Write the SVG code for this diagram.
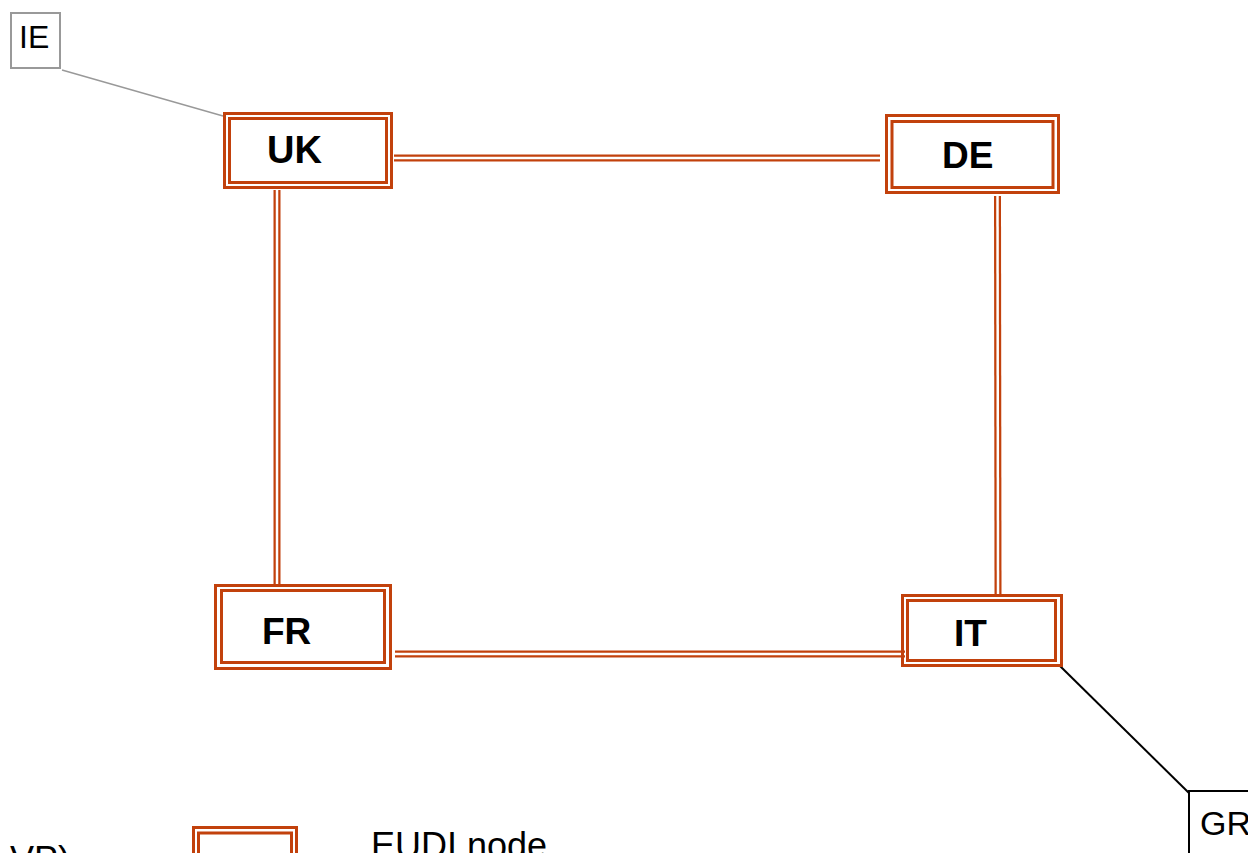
<svg xmlns="http://www.w3.org/2000/svg" width="1248" height="853" viewBox="0 0 1248 853">
<style>
.o{fill:none;stroke:#C2410C;stroke-width:3}
.lab{font-family:"Liberation Sans",Arial,sans-serif;font-weight:bold;font-size:37px;fill:#000}
.txt{font-family:"Liberation Sans",Arial,sans-serif;font-size:34px;fill:#000}
.dl{stroke:#C2410C;stroke-width:7;fill:none}
.dw{stroke:#fff;stroke-width:2.5;fill:none}
</style>
<rect width="1248" height="853" fill="#fff"/>
<g id="connectors">
  <line x1="62" y1="70" x2="223" y2="116" stroke="#999" stroke-width="1.5"/>
  <line x1="1060" y1="666" x2="1189" y2="793" stroke="#000" stroke-width="2"/>
  <g id="uk-de"><line class="dl" x1="394" y1="158" x2="880" y2="158"/><line class="dw" x1="394" y1="158" x2="880" y2="158"/></g>
  <g id="uk-fr"><line class="dl" x1="277" y1="190" x2="277" y2="584"/><line class="dw" x1="277" y1="190" x2="277" y2="584"/></g>
  <g id="de-it"><line class="dl" x1="997.5" y1="196" x2="998" y2="595"/><line class="dw" x1="997.5" y1="196" x2="998" y2="595"/></g>
  <g id="fr-it"><line class="dl" x1="395" y1="654" x2="905" y2="654"/><line class="dw" x1="395" y1="654" x2="905" y2="654"/></g>
</g>
<g id="IE">
  <rect x="11" y="13" width="49" height="55" fill="#fff" stroke="#999" stroke-width="2"/>
  <text class="txt" x="19" y="48" style="font-size:32px">IE</text>
</g>
<g id="UK">
  <rect class="o" x="224.5" y="113.5" width="167" height="74" fill="#fff"/>
  <rect class="o" x="229.5" y="118.5" width="157" height="64"/>
  <text class="lab" x="267" y="163" style="font-size:38px">UK</text>
</g>
<g id="DE">
  <rect class="o" x="886.5" y="115.5" width="172" height="77" fill="#fff"/>
  <rect class="o" x="892" y="121.5" width="161" height="66"/>
  <text class="lab" x="942" y="168">DE</text>
</g>
<g id="FR">
  <rect class="o" x="215.5" y="585.5" width="175" height="83" fill="#fff"/>
  <rect class="o" x="221.5" y="590.5" width="163" height="72"/>
  <text class="lab" x="262" y="644">FR</text>
</g>
<g id="IT">
  <rect class="o" x="902.5" y="595.5" width="159" height="70" fill="#fff"/>
  <rect class="o" x="907.5" y="600.5" width="148" height="60"/>
  <text class="lab" x="954" y="646">IT</text>
</g>
<g id="GR">
  <rect x="1189" y="791" width="80" height="80" fill="#fff" stroke="#000" stroke-width="2"/>
  <text class="txt" x="1200" y="835">GR</text>
</g>
<g id="legend">
  <text class="txt" x="10" y="872" style="font-size:36px">VP)</text>
  <rect class="o" x="193.5" y="827.5" width="103" height="50" fill="#fff"/>
  <rect class="o" x="198.5" y="833" width="93" height="40"/>
  <text class="txt" x="371" y="858" style="font-size:36px">EUDI node</text>
</g>
</svg>
